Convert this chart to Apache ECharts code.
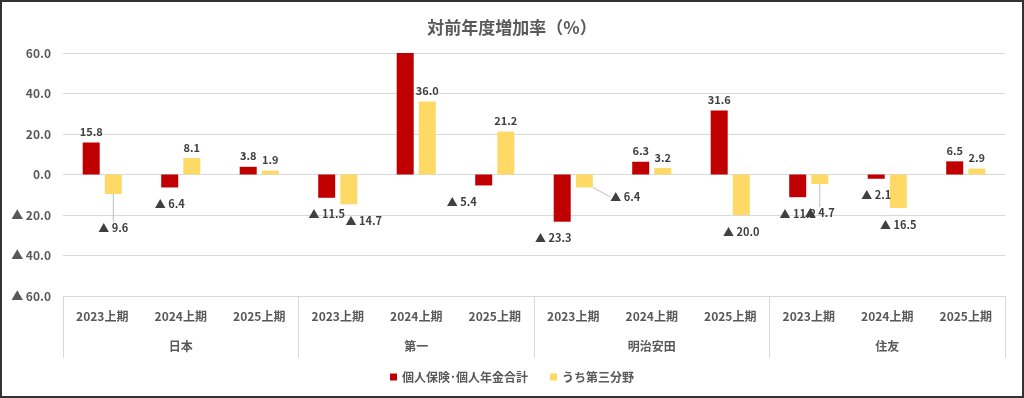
<!DOCTYPE html>
<html>
<head>
<meta charset="utf-8">
<script src="https://cdn.jsdelivr.net/npm/echarts@6/dist/echarts.min.js"></script>
<style>
  html, body { margin: 0; padding: 0; background: #fff; }
  #chart { width: 1024px; height: 398px; box-sizing: border-box; border: 2px solid #333; }
</style>
</head>
<body>
<div id="chart"></div>
<script>
// データ
var periods = ['2023上期', '2024上期', '2025上期'];
var companies = ['日本', '第一', '明治安田', '住友'];
var kojinTotal = [15.8, -6.4, 3.8, -11.5, 60.0, -5.4, -23.3, 6.3, 31.6, -11.2, -2.1, 6.5];
var daisan = [-9.6, 8.1, 1.9, -14.7, 36.0, 21.2, -6.4, 3.2, -20.0, -4.7, -16.5, 2.9];
var yTicks = [-60, -40, -20, 0, 20, 40, 60];

var categories = [];
companies.forEach(function () { periods.forEach(function (p) { categories.push(p); }); });

// ラベル位置の調整（ずれているラベルのみ）
var moveLabel = {
  '0-4': { hide: true },
  '0-5': { dx: -22 },
  '0-6': { dx: -9 },
  '1-0': { dy: 17, line: true },
  '1-3': { dx: 15 },
  '1-6': { dx: 41, dy: -7, line: true },
  '1-9': { dy: 12, line: true }
};

function fmt(v) {
  return v < 0 ? '▲ ' + (-v).toFixed(1) : v.toFixed(1);
}

function makeData(values, si) {
  return values.map(function (v, i) {
    var m = moveLabel[si + '-' + i] || {};
    return {
      value: v,
      label: {
        show: !m.hide,
        position: v < 0 ? 'bottom' : 'top',
        distance: v < 0 ? 11 : 5
      },
      labelLine: { show: !!m.line }
    };
  });
}

var chart = echarts.init(document.getElementById('chart'));
var font = '"Noto Sans CJK JP", "Noto Sans", sans-serif';

var option = {
  animation: false,
  textStyle: { fontFamily: font },
  title: {
    text: '対前年度増加率（%）',
    left: 'center',
    top: 12,
    textStyle: { fontSize: 17, fontWeight: 'bold', color: '#595959', fontFamily: font }
  },
  legend: {
    bottom: 8,
    left: 'center',
    icon: 'rect',
    itemWidth: 7,
    itemHeight: 7,
    itemGap: 22,
    textStyle: { fontSize: 12, fontWeight: 'bold', color: '#595959' },
    data: ['個人保険･個人年金合計', 'うち第三分野']
  },
  grid: { left: 61, right: 17, top: 51, bottom: 100 },
  xAxis: [
    {
      type: 'category',
      data: categories,
      axisLine: { onZero: false, lineStyle: { color: '#d9d9d9' } },
      axisTick: { show: false },
      axisLabel: { interval: 0, margin: 14, fontSize: 12, fontWeight: 'bold', color: '#595959' }
    },
    {
      type: 'category',
      data: companies,
      position: 'bottom',
      axisLine: { show: false, onZero: false },
      axisTick: { show: true, length: 62, interval: 0, lineStyle: { color: '#d9d9d9' } },
      axisLabel: { interval: 0, margin: 44, fontSize: 12, fontWeight: 'bold', color: '#595959' }
    }
  ],
  yAxis: {
    type: 'value',
    min: yTicks[0],
    max: yTicks[yTicks.length - 1],
    interval: 20,
    axisLine: { show: false },
    axisTick: { show: false },
    splitLine: { lineStyle: { color: '#d9d9d9' } },
    axisLabel: { formatter: fmt, fontSize: 12, fontWeight: 'bold', color: '#595959', margin: 12 }
  },
  series: [
    {
      name: '個人保険･個人年金合計',
      type: 'bar',
      barWidth: 17,
      barGap: '30%',
      itemStyle: { color: '#C00000' },
      label: { formatter: function (p) { return fmt(p.value); }, fontSize: 11, fontWeight: 'bold', color: '#404040' },
      labelLine: { lineStyle: { color: '#bfbfbf' } },
      labelLayout: function (p) {
        var m = moveLabel['0-' + p.dataIndex] || {};
        return { dx: m.dx || 0, dy: m.dy || 0 };
      },
      data: makeData(kojinTotal, 0)
    },
    {
      name: 'うち第三分野',
      type: 'bar',
      barWidth: 17,
      barGap: '30%',
      itemStyle: { color: '#FFD966' },
      label: { formatter: function (p) { return fmt(p.value); }, fontSize: 11, fontWeight: 'bold', color: '#404040' },
      labelLine: { lineStyle: { color: '#bfbfbf' } },
      labelLayout: function (p) {
        var m = moveLabel['1-' + p.dataIndex] || {};
        return { dx: m.dx || 0, dy: m.dy || 0 };
      },
      data: makeData(daisan, 1)
    }
  ]
};

chart.setOption(option);
</script>
</body>
</html>
